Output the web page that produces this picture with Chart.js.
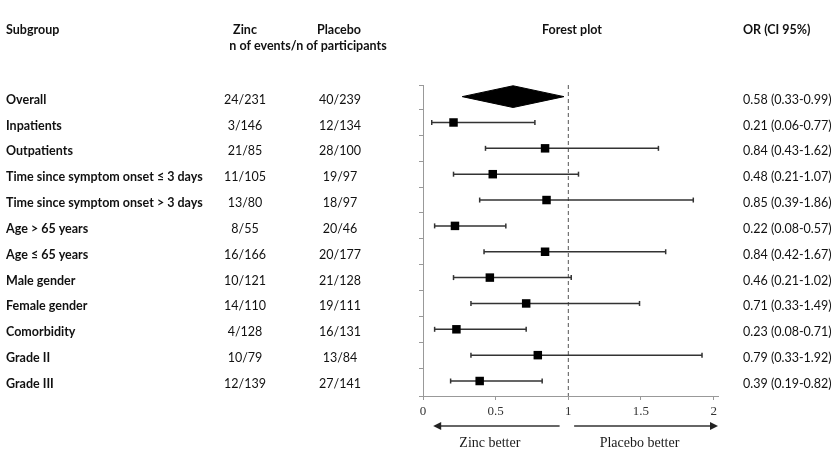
<!DOCTYPE html>
<html>
<head>
<meta charset="utf-8">
<script src="https://cdn.jsdelivr.net/npm/chart.js@4.4.1/dist/chart.umd.min.js"></script>
<style>
  html, body { margin: 0; padding: 0; background: #fff; }
  #wrap { position: relative; width: 838px; height: 473px; }
</style>
</head>
<body>
<div id="wrap"><canvas id="c" width="838" height="473"></canvas></div>
<script>
// ---- data ----
const subgroups = [
  "Overall", "Inpatients", "Outpatients",
  "Time since symptom onset \u2264 3 days", "Time since symptom onset > 3 days",
  "Age > 65 years", "Age \u2264 65 years", "Male gender", "Female gender",
  "Comorbidity", "Grade II", "Grade III"
];
const zincCounts = ["24/231","3/146","21/85","11/105","13/80","8/55","16/166","10/121","14/110","4/128","10/79","12/139"];
const placeboCounts = ["40/239","12/134","28/100","19/97","18/97","20/46","20/177","21/128","19/111","16/131","13/84","27/141"];
const orValues = [0.58, 0.21, 0.84, 0.48, 0.85, 0.22, 0.84, 0.46, 0.71, 0.23, 0.79, 0.39];
const ciLower  = [0.33, 0.06, 0.43, 0.21, 0.39, 0.08, 0.42, 0.21, 0.33, 0.08, 0.33, 0.19];
const ciUpper  = [0.99, 0.77, 1.62, 1.07, 1.86, 0.57, 1.67, 1.02, 1.49, 0.71, 1.92, 0.82];
const orLabels = ["0.58 (0.33-0.99)","0.21 (0.06-0.77)","0.84 (0.43-1.62)","0.48 (0.21-1.07)","0.85 (0.39-1.86)","0.22 (0.08-0.57)","0.84 (0.42-1.67)","0.46 (0.21-1.02)","0.71 (0.33-1.49)","0.23 (0.08-0.71)","0.79 (0.33-1.92)","0.39 (0.19-0.82)"];
// overall diamond as drawn: left, centre, right
const overallDiamond = [0.27, 0.62, 0.97];
const xTickValues = [0, 0.5, 1, 1.5, 2];
const xTickLabels = ["0", "0.5", "1", "1.5", "2"];

// ---- derived datasets ----
const rows = subgroups.map((s, i) => i);
const sub = rows.slice(1);
const ciLineData = [];
sub.forEach(i => { ciLineData.push({x: ciLower[i], y: i}, {x: ciUpper[i], y: i}, {x: null, y: null}); });
const capData = [];
sub.forEach(i => { capData.push({x: ciLower[i], y: i}, {x: ciUpper[i], y: i}); });
const pointData = sub.map(i => ({x: orValues[i], y: i}));
const dh = 0.42;
const diamondData = [
  {x: overallDiamond[0], y: 0}, {x: overallDiamond[1], y: -dh},
  {x: overallDiamond[2], y: 0}, {x: overallDiamond[1], y: dh},
  {x: overallDiamond[0], y: 0}
];
const Y_MIN = -0.45, Y_MAX = 11.58;

const textFont = "Lato, 'Open Sans', sans-serif";
const serif = "'Liberation Serif', 'DejaVu Serif', serif";

const tablePlugin = {
  id: 'table',
  afterDraw(chart) {
    const ctx = chart.ctx;
    const ys = chart.scales.y, xs = chart.scales.x;
    ctx.save();
    ctx.fillStyle = '#111';
    ctx.textBaseline = 'middle';
    // headers
    ctx.font = "bold 12.5px " + textFont;
    ctx.textAlign = 'left';
    ctx.fillText("Subgroup", 6, 30);
    ctx.textAlign = 'center';
    ctx.fillText("Zinc", 245, 30);
    ctx.fillText("Placebo", 339, 30);
    ctx.fillText("n of events/n of participants", 308, 46);
    ctx.fillText("Forest plot", 572, 30);
    ctx.textAlign = 'left';
    ctx.fillText("OR (CI 95%)", 743, 30);
    // rows
    rows.forEach(i => {
      const y = ys.getPixelForValue(i) + 3;
      ctx.font = "bold 12.5px " + textFont;
      ctx.textAlign = 'left';
      ctx.fillText(subgroups[i], 6, y);
      ctx.font = "12.5px " + textFont;
      ctx.textAlign = 'center';
      ctx.fillText(zincCounts[i], 245, y);
      ctx.fillText(placeboCounts[i], 340, y);
      ctx.textAlign = 'left';
      ctx.fillText(orLabels[i], 743, y);
    });
    // arrows
    const ay = 426;
    ctx.strokeStyle = '#333';
    ctx.fillStyle = '#222';
    ctx.lineWidth = 1.5;
    const lx1 = xs.getPixelForValue(0.07), lx2 = xs.getPixelForValue(0.94);
    const rx1 = xs.getPixelForValue(1.04), rx2 = xs.getPixelForValue(2.03);
    ctx.beginPath(); ctx.moveTo(lx1 + 6, ay); ctx.lineTo(lx2, ay); ctx.stroke();
    ctx.beginPath(); ctx.moveTo(lx1, ay); ctx.lineTo(lx1 + 8, ay - 4); ctx.lineTo(lx1 + 8, ay + 4); ctx.closePath(); ctx.fill();
    ctx.beginPath(); ctx.moveTo(rx1, ay); ctx.lineTo(rx2 - 6, ay); ctx.stroke();
    ctx.beginPath(); ctx.moveTo(rx2, ay); ctx.lineTo(rx2 - 8, ay - 4); ctx.lineTo(rx2 - 8, ay + 4); ctx.closePath(); ctx.fill();
    ctx.font = "14px " + serif;
    ctx.textAlign = 'center';
    ctx.fillStyle = '#1a1a1a';
    ctx.fillText("Zinc better", xs.getPixelForValue(0.46), 443);
    ctx.fillText("Placebo better", xs.getPixelForValue(1.49), 443);
    ctx.restore();
  }
};

new Chart(document.getElementById('c'), {
  type: 'scatter',
  data: {
    datasets: [
      {
        label: 'no effect', data: [{x: 1, y: Y_MIN}, {x: 1, y: Y_MAX}],
        showLine: true, borderColor: '#555', borderWidth: 1, borderDash: [4, 3],
        pointRadius: 0, order: 5
      },
      {
        label: 'CI', data: ciLineData, showLine: true, spanGaps: false,
        borderColor: '#333', borderWidth: 1.5, pointRadius: 0, order: 4
      },
      {
        label: 'caps', data: capData, showLine: false,
        pointStyle: 'line', rotation: 90, pointRadius: 2.5,
        borderColor: '#333', borderWidth: 1.5, order: 3
      },
      {
        label: 'OR', data: pointData, pointStyle: 'rect', pointRadius: 6,
        backgroundColor: '#000', borderColor: '#000', borderWidth: 0, order: 1
      },
      {
        label: 'Overall', data: diamondData, showLine: true, fill: 'shape',
        backgroundColor: '#000', borderColor: '#000', borderWidth: 1,
        pointRadius: 0, order: 2
      }
    ]
  },
  options: {
    responsive: false,
    animation: false,
    devicePixelRatio: 1,
    layout: { padding: { left: 419, top: 85, right: 120, bottom: 0 } },
    plugins: { legend: { display: false }, tooltip: { enabled: false } },
    scales: {
      x: {
        type: 'linear', min: 0, max: 2.03,
        afterBuildTicks: s => { s.ticks = xTickValues.map(v => ({value: v})); },
        afterFit: s => { s.height = 77; },
        grid: { drawOnChartArea: false, drawTicks: true, tickLength: 4, color: '#999' },
        border: { display: true, color: '#999', width: 1 },
        ticks: {
          font: { family: serif, size: 13 }, color: '#333', padding: 4, maxRotation: 0,
          callback: (v) => xTickLabels[xTickValues.indexOf(v)]
        }
      },
      y: {
        type: 'linear', reverse: true, min: Y_MIN, max: Y_MAX,
        afterBuildTicks: s => {
          const t = [Y_MIN];
          for (let i = 0; i < 11; i++) t.push(i + 0.5);
          t.push(Y_MAX);
          s.ticks = t.map(v => ({value: v}));
        },
        afterFit: s => { s.width = 4; },
        grid: { drawOnChartArea: false, drawTicks: true, tickLength: 4, color: '#999' },
        border: { display: true, color: '#999', width: 1 },
        ticks: { display: false }
      }
    }
  },
  plugins: [tablePlugin]
});
</script>
</body>
</html>
